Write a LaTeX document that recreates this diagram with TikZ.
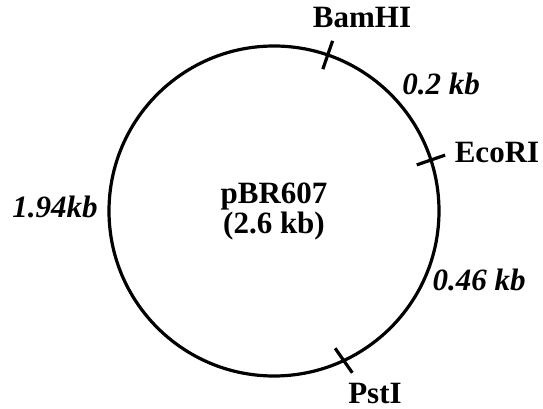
\documentclass[tikz,border=0pt]{standalone}
\usepackage{fontspec}
\setmainfont{Liberation Serif}
\usetikzlibrary{shapes}

\begin{document}
\begin{tikzpicture}[x=1pt,y=1pt,
  site/.style={font=\fontsize{31}{30}\selectfont\bfseries,anchor=base},
  len/.style={font=\fontsize{31}{30}\selectfont\bfseries\itshape,anchor=base}]
\useasboundingbox (-274,-198) rectangle (269,211);

\node [circle,draw,line width=3.2pt,minimum size=330pt,align=center,font=\fontsize{31}{30}\selectfont\bfseries] (v1) at (0,0) {pBR607\\(2.6 kb)};

\node[site] (v2) at (88,183) {BamHI};
\node[site] (v3) at (223,48) {EcoRI};
\node[site] (v4) at (101,-192) {PstI};

\node[len] (v5) at (167,116) {0.2 kb};
\node[len] (v6) at (205,-79) {0.46 kb};
\node[len] (v7) at (-219,-7) {1.94kb};

\foreach \a/\d in {71/71,18/19,-65/-55}
    \draw[line width=3.2pt] (\a:165) ++(\d:-15) -- ++(\d:30);

\end{tikzpicture}
\end{document}
